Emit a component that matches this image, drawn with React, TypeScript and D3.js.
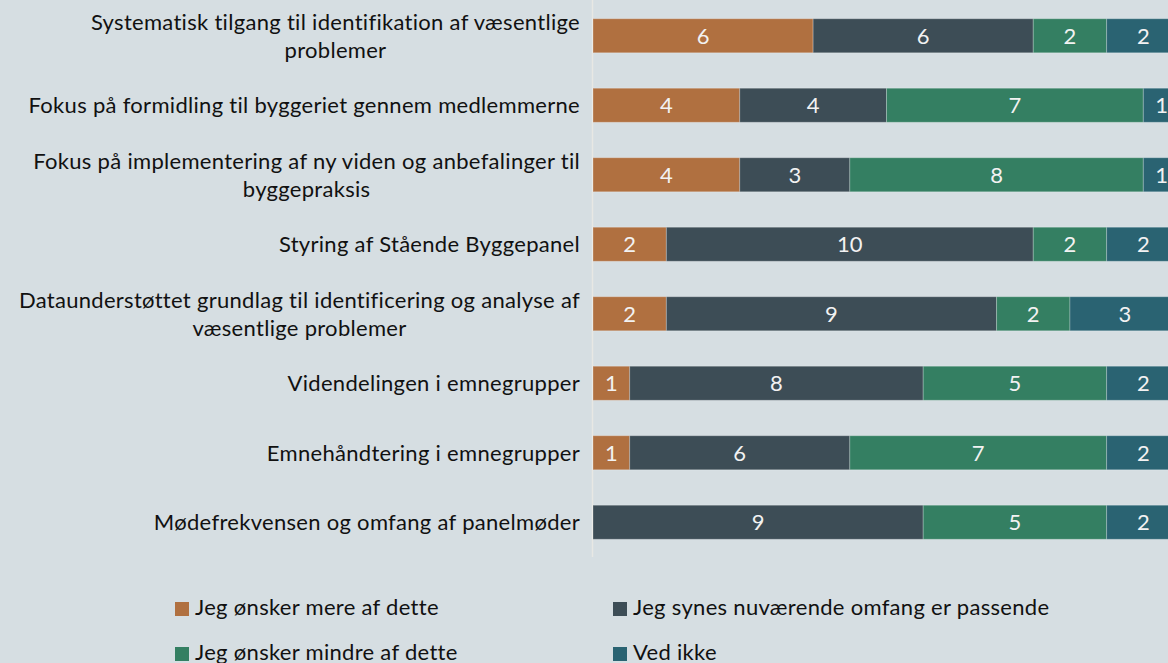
import React, { useEffect, useRef } from "react";
import * as d3 from "d3";

const categories = [
  "Systematisk tilgang til identifikation af væsentlige\nproblemer",
  "Fokus på formidling til byggeriet gennem medlemmerne",
  "Fokus på implementering af ny viden og anbefalinger til\nbyggepraksis",
  "Styring af Stående Byggepanel",
  "Dataunderstøttet grundlag til identificering og analyse af\nvæsentlige problemer",
  "Videndelingen i emnegrupper",
  "Emnehåndtering i emnegrupper",
  "Mødefrekvensen og omfang af panelmøder",
];

const seriesNames = [
  "Jeg ønsker mere af dette",
  "Jeg synes nuværende omfang er passende",
  "Jeg ønsker mindre af dette",
  "Ved ikke",
];

const mere = [6, 4, 4, 2, 2, 1, 1, 0];
const passende = [6, 4, 3, 10, 9, 8, 6, 9];
const mindre = [2, 7, 8, 2, 2, 5, 7, 5];
const vedIkke = [2, 1, 1, 2, 3, 2, 2, 2];

const colors = ["#b07040", "#3d4d56", "#347f62", "#2a6372"];

const W = 1168;
const H = 663;
const FONT = "Lato, 'Noto Sans', sans-serif";
const FS = 22;
const LS = 0.3;

export default function App() {
  const ref = useRef<SVGSVGElement>(null);

  useEffect(() => {
    const svg = d3.select(ref.current);
    svg.selectAll("*").remove();

    svg.append("rect").attr("width", W).attr("height", H).attr("fill", "#d6dee2");

    const values = [mere, passende, mindre, vedIkke];
    const rows = categories.map((c, i) => {
      const r: any = { cat: c };
      values.forEach((v, k) => (r["s" + k] = v[i]));
      return r;
    });
    const keys = ["s0", "s1", "s2", "s3"];
    const stacked = d3.stack().keys(keys)(rows);

    const x = d3.scaleLinear().domain([0, 16]).range([593, 1180]);
    const y = d3
      .scaleBand<string>()
      .domain(categories)
      .range([1, 557])
      .paddingInner(0.51)
      .paddingOuter(0.255);

    // axis line
    svg
      .append("line")
      .attr("x1", x(0) - 0.5)
      .attr("x2", x(0) - 0.5)
      .attr("y1", 0)
      .attr("y2", 557)
      .attr("stroke", "#e8e8e4")
      .attr("stroke-width", 1.5);

    const g = svg.append("g");
    stacked.forEach((layer, k) => {
      layer.forEach((d, i) => {
        const w = x(d[1]) - x(d[0]);
        if (w <= 0) return;
        g.append("rect")
          .attr("x", x(d[0]))
          .attr("y", y(categories[i])!)
          .attr("width", w)
          .attr("height", y.bandwidth())
          .attr("fill", colors[k])
          .attr("stroke", "rgba(255,255,255,0.25)")
          .attr("stroke-width", 1);
        g.append("text")
          .attr("x", (x(d[0]) + x(d[1])) / 2)
          .attr("y", y(categories[i])! + y.bandwidth() / 2)
          .attr("dy", "0.36em")
          .attr("text-anchor", "middle")
          .attr("font-family", FONT)
          .attr("font-size", FS)
          .attr("fill", "#f2f2f2")
          .text(d[1] - d[0]);
      });
    });

    // category labels
    const labelRight = 580;
    categories.forEach((c) => {
      const lines = c.split("\n");
      const cy = y(c)! + y.bandwidth() / 2;
      const t = svg
        .append("text")
        .attr("font-family", FONT)
        .attr("font-size", FS)
        .attr("letter-spacing", LS)
        .attr("fill", "#111")
        .attr("text-anchor", "middle");
      const spans = lines.map((ln, j) =>
        t
          .append("tspan")
          .attr("y", cy + (j - (lines.length - 1) / 2) * 28)
          .attr("dy", "0.36em")
          .text(ln)
      );
      const maxW = d3.max(spans, (s) => (s.node() as SVGTSpanElement).getComputedTextLength())!;
      spans.forEach((s) => s.attr("x", labelRight - maxW / 2));
    });

    // legend
    const legendPos = [
      [175, 609],
      [613, 609],
      [175, 654],
      [613, 654],
    ];
    seriesNames.forEach((n, k) => {
      const [lx, ly] = legendPos[k];
      svg
        .append("rect")
        .attr("x", lx)
        .attr("y", ly - 7)
        .attr("width", 14)
        .attr("height", 14)
        .attr("fill", colors[k]);
      svg
        .append("text")
        .attr("x", lx + 20)
        .attr("y", ly - 1.5)
        .attr("dy", "0.36em")
        .attr("font-family", FONT)
        .attr("font-size", FS)
        .attr("letter-spacing", LS)
        .attr("fill", "#111")
        .text(n);
    });
  }, []);

  return (
    <div style={{ position: "fixed", left: 0, top: 0, width: W, height: H }}>
      <svg ref={ref} width={W} height={H} style={{ display: "block" }} />
    </div>
  );
}
